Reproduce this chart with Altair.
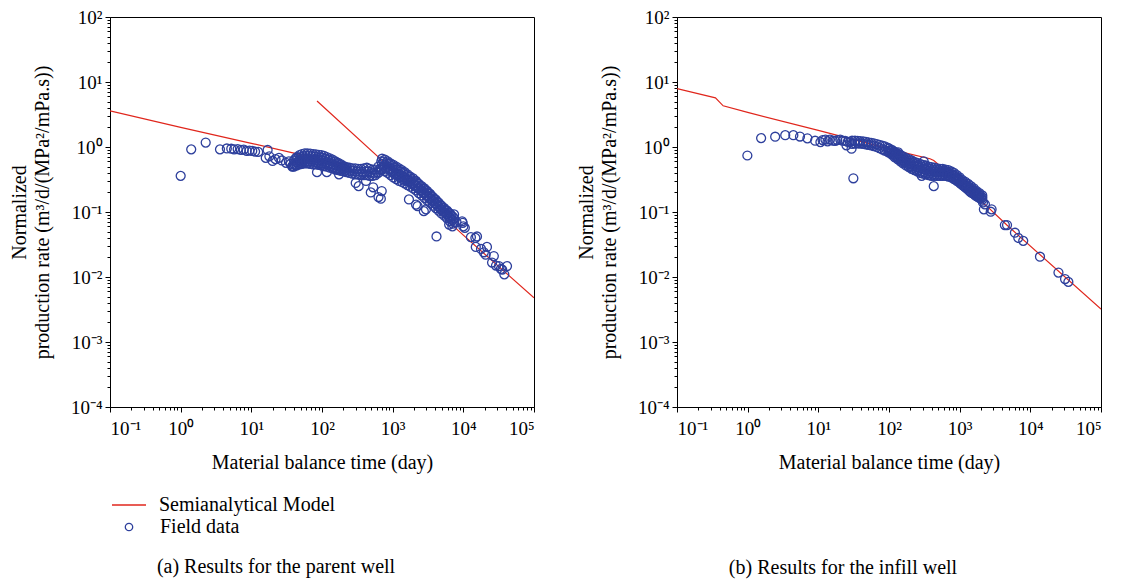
import altair as alt
import pandas as pd

RED = "#e0261c"
BLUE = "#2d3f9c"
FONT = "Liberation Serif"

# ---------------- axis ticks ----------------
X_MAJOR = [0.1, 1, 10, 100, 1000, 10000, 100000]
X_TICK_LABELS = ["10⁻¹", "10⁰", "10¹", "10²", "10³", "10⁴", "10⁵"]
Y_MAJOR = [0.0001, 0.001, 0.01, 0.1, 1, 10, 100]
Y_TICK_LABELS = ["10⁻⁴", "10⁻³", "10⁻²", "10⁻¹", "10⁰", "10¹", "10²"]

# ---------------- panel (a) parent well ----------------
A_LINE1_X = [0.1, 1, 10, 100, 200]
A_LINE1_Y = [3.6, 2.0, 1.14, 0.64, 0.54]
A_LINE2_X = [85, 1000, 10000, 100000]
A_LINE2_Y = [5.1, 0.44, 0.044, 0.0048]

A_X = [
    # early sparse points
    1.0, 1.41, 2.26, 3.6, 4.5, 5.2, 5.7, 6.4, 7.1, 7.8, 8.6, 9.4, 10.3, 11.3, 12.5,
    17, 16, 18, 20, 22, 24.6, 27, 31, 34, 38, 36,
    # dense cluster 40-222 (top / mid / bottom)
    40, 44, 48, 52, 57, 62, 68, 75, 82, 90, 98, 107, 117, 129, 141, 155, 170, 186, 204, 222,
    40, 44, 48, 52, 57, 62, 68, 75, 82, 90, 98, 107, 117, 129, 141, 155, 170, 186, 204, 222,
    40, 44, 48, 52, 57, 62, 68, 75, 82, 90, 98, 107, 117, 129, 141, 155, 170, 186, 204, 222,
    # (upper-mid / lower-mid)
    42, 46, 50, 54, 59, 65, 71, 78, 86, 94, 102, 112, 123, 135, 148, 162, 178, 195, 213,
    42, 46, 50, 54, 59, 65, 71, 78, 86, 94, 102, 112, 123, 135, 148, 162, 178, 195, 213,
    85, 117, 174, 38,
    # connecting band 244-690
    244, 268, 295, 324, 356, 391, 430, 472, 519, 570, 626, 690,
    244, 268, 295, 324, 356, 391, 430, 472, 519, 570, 626, 690,
    256, 281, 309, 340, 373, 410, 450, 495, 544, 597, 657,
    330, 490, 630, 300, 680, 700, 530, 420,
    # main blob 708-7079 (top / mid / bottom)
    708, 776, 851, 933, 1023, 1122, 1230, 1349, 1479, 1622, 1778, 1950, 2138, 2344, 2570,
    2818, 3090, 3388, 3715, 4074, 4467, 4898, 5370, 5888, 6457, 7079,
    708, 776, 851, 933, 1023, 1122, 1230, 1349, 1479, 1622, 1778, 1950, 2138, 2344, 2570,
    2818, 3090, 3388, 3715, 4074, 4467, 4898, 5370, 5888, 6457, 7079,
    708, 776, 851, 933, 1023, 1122, 1230, 1349, 1479, 1622, 1778, 1950, 2138, 2344, 2570,
    2818, 3090, 3388, 3715, 4074, 4467, 4898, 5370, 5888, 6457, 7079,
    # (upper-mid / lower-mid)
    742, 813, 891, 977, 1072, 1175, 1288, 1413, 1549, 1698, 1862, 2042, 2239, 2455, 2692,
    2951, 3236, 3548, 3890, 4266, 4677, 5129, 5623, 6166, 6761, 7413,
    742, 813, 891, 977, 1072, 1175, 1288, 1413, 1549, 1698, 1862, 2042, 2239, 2455, 2692,
    2951, 3236, 3548, 3890, 4266, 4677, 5129, 5623, 6166, 6761, 7413,
    # outliers and tail
    1700, 2250, 2960, 4170, 2140, 2760,
    7400, 6300, 7000, 8000, 9600, 9800, 10000, 10500, 12800, 15600, 14800, 15000, 17800,
    21600, 20700, 19500, 27000, 25500, 29000, 31900, 35500, 38000, 41500, 34000,
]
A_Y = [
    0.36, 0.92, 1.17, 0.92, 0.95, 0.94, 0.92, 0.93, 0.9, 0.91, 0.87, 0.88, 0.87, 0.85, 0.84,
    0.9, 0.68, 0.72, 0.61, 0.65, 0.68, 0.62, 0.57, 0.6, 0.51, 0.55,
    0.62, 0.7, 0.75, 0.78, 0.8, 0.8, 0.79, 0.78, 0.77, 0.76, 0.75, 0.73, 0.7, 0.67, 0.64, 0.6, 0.57, 0.54, 0.51, 0.49,
    0.55, 0.58, 0.62, 0.65, 0.66, 0.66, 0.65, 0.64, 0.63, 0.62, 0.62, 0.6, 0.58, 0.56, 0.54, 0.52, 0.5, 0.48, 0.46, 0.45,
    0.5, 0.52, 0.54, 0.55, 0.56, 0.56, 0.55, 0.54, 0.54, 0.53, 0.52, 0.51, 0.5, 0.48, 0.47, 0.45, 0.44, 0.43, 0.42, 0.41,
    0.66, 0.68, 0.7, 0.72, 0.73, 0.73, 0.72, 0.71, 0.7, 0.69, 0.68, 0.66, 0.64, 0.61, 0.59, 0.56, 0.53, 0.51, 0.48,
    0.52, 0.55, 0.58, 0.6, 0.61, 0.6, 0.6, 0.59, 0.58, 0.57, 0.56, 0.55, 0.53, 0.51, 0.49, 0.47, 0.46, 0.45, 0.43,
    0.41, 0.41, 0.38, 0.5,
    0.48, 0.47, 0.47, 0.46, 0.46, 0.47, 0.48, 0.46, 0.45, 0.45, 0.5, 0.6,
    0.4, 0.39, 0.38, 0.38, 0.37, 0.37, 0.37, 0.36, 0.36, 0.37, 0.4, 0.45,
    0.43, 0.43, 0.42, 0.42, 0.41, 0.42, 0.42, 0.41, 0.4, 0.41, 0.45,
    0.25, 0.2, 0.17, 0.28, 0.16, 0.21, 0.24, 0.3,
    0.66, 0.64, 0.6, 0.56, 0.53, 0.5, 0.47, 0.44, 0.41, 0.38, 0.35, 0.33, 0.3, 0.27, 0.25,
    0.23, 0.21, 0.19, 0.17, 0.155, 0.14, 0.125, 0.115, 0.105, 0.095, 0.085,
    0.55, 0.52, 0.5, 0.46, 0.43, 0.4, 0.38, 0.36, 0.34, 0.32, 0.3, 0.28, 0.26, 0.235, 0.215,
    0.2, 0.18, 0.165, 0.15, 0.135, 0.122, 0.11, 0.1, 0.092, 0.083, 0.075,
    0.45, 0.42, 0.4, 0.37, 0.34, 0.32, 0.3, 0.29, 0.275, 0.26, 0.245, 0.23, 0.215, 0.195, 0.18,
    0.165, 0.15, 0.138, 0.125, 0.115, 0.105, 0.095, 0.088, 0.08, 0.072, 0.066,
    0.6, 0.58, 0.55, 0.51, 0.48, 0.45, 0.42, 0.4, 0.37, 0.35, 0.32, 0.3, 0.28, 0.25, 0.23,
    0.215, 0.195, 0.177, 0.16, 0.145, 0.13, 0.117, 0.107, 0.098, 0.089, 0.08,
    0.5, 0.47, 0.45, 0.41, 0.38, 0.36, 0.34, 0.32, 0.305, 0.29, 0.27, 0.255, 0.235, 0.215, 0.197,
    0.182, 0.165, 0.15, 0.137, 0.125, 0.113, 0.102, 0.094, 0.086, 0.077, 0.07,
    0.156, 0.123, 0.11, 0.042, 0.13, 0.103,
    0.092, 0.064, 0.06, 0.07, 0.072, 0.068, 0.06, 0.057, 0.041, 0.042, 0.04, 0.029, 0.027,
    0.029, 0.022, 0.024, 0.021, 0.0167, 0.015, 0.0147, 0.013, 0.011, 0.0147, 0.0133,
]

# ---------------- panel (b) infill well ----------------
B_LINE_X = [0.1, 0.35, 0.45, 1, 10, 129, 380, 430, 500, 1000, 2400, 4650, 100000]
B_LINE_Y = [7.9, 5.7, 4.3, 3.4, 1.8, 0.87, 0.66, 0.62, 0.54, 0.28, 0.124, 0.063, 0.0032]

B_X = [
    0.99, 1.55, 2.45, 3.4, 4.43, 5.5, 7.0, 9.0, 10.7, 11.5, 12.6, 13.5, 14.6, 16, 17.3, 18.5,
    20.4, 22, 24, 25, 26, 28, 29.5, 31.3,
    # cluster 30-95 (top / bottom)
    30, 33, 36, 39, 43, 47, 51, 56, 61, 67, 73, 80, 87, 95,
    30, 33, 36, 39, 43, 47, 51, 56, 61, 67, 73, 80, 87, 95,
    # main blob 100-2089 (top / mid / bottom)
    100, 110, 120, 132, 145, 158, 174, 191, 209, 229, 251, 275, 302, 331, 363, 398, 437,
    479, 525, 575, 631, 692, 759, 832, 912, 1000, 1096, 1202, 1318, 1445, 1585, 1738, 1905, 2089,
    100, 110, 120, 132, 145, 158, 174, 191, 209, 229, 251, 275, 302, 331, 363, 398, 437,
    479, 525, 575, 631, 692, 759, 832, 912, 1000, 1096, 1202, 1318, 1445, 1585, 1738, 1905, 2089,
    100, 110, 120, 132, 145, 158, 174, 191, 209, 229, 251, 275, 302, 331, 363, 398, 437,
    479, 525, 575, 631, 692, 759, 832, 912, 1000, 1096, 1202, 1318, 1445, 1585, 1738, 1905, 2089,
    # (upper-mid / lower-mid)
    105, 115, 126, 138, 151, 166, 182, 200, 219, 240, 263, 288, 316, 347, 380, 417, 457,
    501, 550, 603, 661, 724, 794, 871, 955, 1047, 1148, 1259, 1380, 1514, 1660, 1820, 1995,
    105, 115, 126, 138, 151, 166, 182, 200, 219, 240, 263, 288, 316, 347, 380, 417, 457,
    501, 550, 603, 661, 724, 794, 871, 955, 1047, 1148, 1259, 1380, 1514, 1660, 1820, 1995,
    # outliers and tail
    135, 290, 430, 310,
    2280, 2200, 2750, 2140, 2830, 4680, 4360, 6050, 6750, 7930, 13700, 25000, 31000, 34500,
]
B_Y = [
    0.74, 1.37, 1.44, 1.52, 1.52, 1.45, 1.36, 1.25, 1.19, 1.28, 1.3, 1.22, 1.3, 1.25, 1.24, 1.28,
    1.3, 1.25, 1.24, 1.06, 1.2, 1.19, 0.94, 0.33,
    1.25, 1.25, 1.24, 1.23, 1.22, 1.2, 1.18, 1.16, 1.14, 1.11, 1.08, 1.05, 1.02, 0.98,
    1.12, 1.13, 1.14, 1.13, 1.12, 1.1, 1.08, 1.06, 1.03, 1.0, 0.96, 0.92, 0.88, 0.85,
    0.95, 0.9, 0.85, 0.8, 0.76, 0.72, 0.68, 0.65, 0.62, 0.59, 0.57, 0.55, 0.53, 0.52, 0.5, 0.49, 0.48,
    0.47, 0.46, 0.46, 0.45, 0.44, 0.42, 0.4, 0.37, 0.34, 0.31, 0.29, 0.27, 0.25, 0.23, 0.21, 0.195, 0.18,
    0.88, 0.83, 0.77, 0.72, 0.67, 0.63, 0.6, 0.57, 0.54, 0.51, 0.49, 0.47, 0.46, 0.45, 0.43, 0.42, 0.42,
    0.41, 0.41, 0.41, 0.4, 0.39, 0.38, 0.36, 0.33, 0.31, 0.28, 0.26, 0.245, 0.225, 0.21, 0.19, 0.18, 0.167,
    0.82, 0.76, 0.7, 0.65, 0.6, 0.56, 0.52, 0.49, 0.46, 0.44, 0.42, 0.4, 0.39, 0.38, 0.37, 0.36, 0.36,
    0.36, 0.36, 0.36, 0.36, 0.35, 0.34, 0.32, 0.3, 0.28, 0.26, 0.24, 0.22, 0.2, 0.19, 0.175, 0.165, 0.155,
    0.89, 0.84, 0.79, 0.74, 0.7, 0.66, 0.63, 0.6, 0.57, 0.54, 0.52, 0.5, 0.49, 0.47, 0.46, 0.45, 0.44,
    0.44, 0.43, 0.43, 0.42, 0.4, 0.38, 0.36, 0.33, 0.3, 0.28, 0.26, 0.24, 0.22, 0.205, 0.19, 0.175,
    0.82, 0.77, 0.72, 0.67, 0.62, 0.58, 0.55, 0.51, 0.48, 0.46, 0.44, 0.42, 0.41, 0.4, 0.39, 0.38, 0.38,
    0.38, 0.38, 0.38, 0.37, 0.36, 0.34, 0.32, 0.3, 0.27, 0.25, 0.23, 0.21, 0.195, 0.18, 0.17, 0.16,
    0.83, 0.36, 0.25, 0.6,
    0.131, 0.11, 0.101, 0.14, 0.11, 0.063, 0.063, 0.048, 0.04, 0.036, 0.0205, 0.0117, 0.0093, 0.0084,
]

MODEL_LABEL = "Semianalytical Model"
FIELD_LABEL = "Field data"

# minor + major tick positions for the log axes
X_ALL = [m * 10 ** e for e in range(-1, 5) for m in range(1, 10)] + [100000]
Y_ALL = [m * 10 ** e for e in range(-4, 2) for m in range(1, 10)] + [100]


def label_expr(values, labels):
    parts = [f"datum.value == {v} ? '{t}'" for v, t in zip(values, labels)]
    return " : ".join(parts) + " : ''"


def tick_size(values):
    test = "indexof([" + ",".join(str(v) for v in values) + "], datum.value) >= 0"
    return {"condition": {"test": test, "value": 5}, "value": 3}


AXIS_COMMON = dict(
    labelFont=FONT, labelFontSize=19, labelColor="black", labelOverlap=False,
    titleFont=FONT, titleFontSize=20, titleFontWeight="normal", titleColor="black",
    domainColor="black", tickColor="black", grid=False,
)

x_enc = alt.X(
    "x:Q",
    scale=alt.Scale(type="log", domain=[0.1, 100000], nice=False),
    axis=alt.Axis(
        values=X_ALL, labelExpr=label_expr(X_MAJOR, X_TICK_LABELS), tickSize=tick_size(X_MAJOR),
        title="Material balance time (day)", labelPadding=7, titlePadding=14, **AXIS_COMMON,
    ),
)
y_enc = alt.Y(
    "y:Q",
    scale=alt.Scale(type="log", domain=[0.0001, 100], nice=False),
    axis=alt.Axis(
        values=Y_ALL, labelExpr=label_expr(Y_MAJOR, Y_TICK_LABELS), tickSize=tick_size(Y_MAJOR),
        title=["Normalized", "production rate (m³/d/(MPa²/mPa.s))"], titleLineHeight=23,
        labelPadding=3, titlePadding=18, **AXIS_COMMON,
    ),
)


def panel(lines, px, py, caption, with_legend, caption_offset):
    rows = []
    for seg, (lx, ly) in enumerate(lines):
        for a, b in zip(lx, ly):
            rows.append({"x": a, "y": b, "seg": seg, "label": MODEL_LABEL})
    line_df = pd.DataFrame(rows)
    pt_df = pd.DataFrame({"x": px, "y": py, "label": FIELD_LABEL})

    if with_legend:
        line_legend = alt.Legend(
            orient="none", legendX=1, legendY=470, title=None, padding=0,
            symbolType="stroke", symbolSize=1156, symbolStrokeWidth=1.3,
            labelFont=FONT, labelFontSize=20, labelColor="black", labelOffset=12,
            labelLimit=400,
        )
        pt_legend = alt.Legend(
            orient="none", legendX=9, legendY=500, title=None, padding=0,
            symbolType="circle", symbolSize=55, symbolStrokeWidth=1.3,
            symbolStrokeColor=BLUE, symbolFillColor="transparent",
            labelFont=FONT, labelFontSize=20, labelColor="black", labelOffset=21,
            labelLimit=400,
        )
    else:
        line_legend = None
        pt_legend = None

    line_color = alt.Color(
        "label:N", scale=alt.Scale(domain=[MODEL_LABEL], range=[RED]), legend=line_legend
    )
    pt_shape = alt.Shape(
        "label:N", scale=alt.Scale(domain=[FIELD_LABEL], range=["circle"]), legend=pt_legend
    )

    lines_layer = alt.Chart(line_df).mark_line(strokeWidth=1.2, clip=True).encode(
        x=x_enc, y=y_enc, detail="seg:N", color=line_color
    )
    pts_layer = alt.Chart(pt_df).mark_point(
        filled=False, size=80, strokeWidth=1.3, color=BLUE, opacity=1
    ).encode(x=x_enc, y=y_enc, shape=pt_shape)

    return alt.layer(lines_layer, pts_layer).resolve_scale(
        color="independent", shape="independent"
    ).properties(
        width=424, height=390,
        title=alt.TitleParams(
            caption, orient="bottom", frame="group", anchor="middle", dx=-46,
            offset=caption_offset,
            font=FONT, fontSize=20, fontWeight="normal", color="black",
        ),
    )


panel_a = panel([(A_LINE1_X, A_LINE1_Y), (A_LINE2_X, A_LINE2_Y)], A_X, A_Y,
                "(a) Results for the parent well", True, 20)
panel_b = panel([(B_LINE_X, B_LINE_Y)], B_X, B_Y, "(b) Results for the infill well", False, 86)

chart = alt.hconcat(panel_a, panel_b, spacing=40).configure(
    padding={"left": 8, "top": 7, "right": 5, "bottom": 5}, background="white"
).configure_view(stroke="black", strokeWidth=1)

chart.save("out.html", embed_options={"renderer": "svg", "actions": False})
